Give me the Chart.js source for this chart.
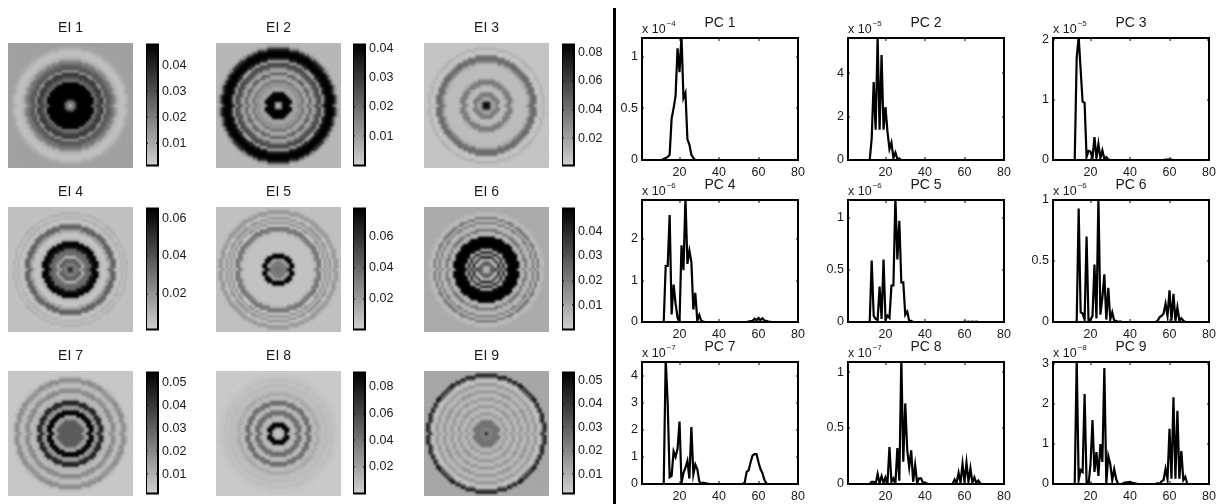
<!DOCTYPE html>
<html>
<head>
<meta charset="utf-8">
<title>EI and PC panels</title>
<script src="https://cdn.jsdelivr.net/npm/chart.js@4/dist/chart.umd.min.js"></script>
<style>
  html, body { margin: 0; padding: 0; background: #fff; width: 1224px; height: 504px; overflow: hidden; }
  canvas { position: absolute; }
  #divider { position: absolute; left: 613px; top: 8px; width: 2.5px; height: 496px; background: #000; }
</style>
</head>
<body>
<div id="divider"></div>
<script>
// --- EI IMAGES: value read along the radius, one entry per image cell ---
const ei1 = [.006,.018,.030,.048,.048,.048,.048,.048,.048,.048,.022,.027,.034,.035,.015,.029,.027,.022,.018,.009,.006,.005,.005,.008,.011,.012];
const ei2 = [.002,.012,.041,.041,.041,.041,.010,.008,.012,.012,.019,.008,.010,.023,.008,.012,.025,.027,.008,.033,.041,.041,.041,.033,.012,.005];
const ei3 = [.085,.077,.030,.014,.035,.035,.009,.009,.014,.035,.036,.014,.008,.009,.009,.009,.009,.014,.035,.043,.039,.009,.004,.014,.008,.006];
const ei4 = [.065,.039,.023,.033,.036,.007,.030,.033,.033,.059,.065,.065,.011,.006,.004,.007,.017,.036,.033,.007,.004,.011,.006,.011,.005,.006];
const ei5 = [.035,.035,.031,.035,.016,.078,.078,.009,.005,.005,.006,.005,.006,.005,.006,.008,.031,.035,.002,.023,.008,.023,.004,.020,.020,.006];
const ei6 = [.003,.010,.027,.027,.005,.044,.010,.042,.005,.047,.049,.049,.049,.049,.008,.005,.022,.008,.005,.020,.005,.022,.005,.006,.009,.009];
const ei7 = [.031,.031,.031,.031,.031,.031,.015,.012,.054,.054,.015,.017,.044,.046,.010,.008,.007,.020,.017,.007,.006,.015,.020,.008,.004,.004];
const ei8 = [.007,.007,.014,.091,.091,.014,.009,.014,.045,.041,.009,.011,.045,.041,.009,.009,.018,.011,.007,.009,.009,.006,.009,.005,.005,.003];
const ei9 = [.053,.022,.022,.025,.025,.025,.010,.008,.017,.008,.008,.017,.008,.008,.017,.008,.008,.017,.008,.008,.017,.008,.004,.030,.048,.012];

const eiProfiles = [ei1, ei2, ei3, ei4, ei5, ei6, ei7, ei8, ei9];
const eiTitles = ["EI 1", "EI 2", "EI 3", "EI 4", "EI 5", "EI 6", "EI 7", "EI 8", "EI 9"];
const eiMin = [.0014, 0, .001, .001, 0, .0003, .0016, 0, .0018];
const eiMax = [.0479, .0413, .0854, .0651, .0781, .0491, .0542, .0909, .0533];
const eiTicks = [
    [.01, .02, .03, .04], [.01, .02, .03, .04], [.02, .04, .06, .08],
    [.02, .04, .06], [.02, .04, .06], [.01, .02, .03, .04],
    [.01, .02, .03, .04, .05], [.02, .04, .06, .08], [.01, .02, .03, .04, .05]
];

// --- PC CURVES: bin -> value, bins not listed are zero ---
const pc1 = {12:.01,13:.02,14:.03,15:.05,16:.4,17:.5,18:.62,19:1.08,20:.85,21:1.2,22:.6,23:.65,24:.2,25:.15,26:.05,27:.02};
const pc2 = {13:1,14:3.6,15:1.4,16:5.7,17:1.4,18:4.85,19:1.4,20:2.45,21:1.3,22:.5,23:.8,24:.1,25:.35,26:.05,27:.07};
const pc3 = {13:1.7,14:2.05,15:1.5,16:.97,17:.95,18:.05,19:.15,20:.14,21:.03,22:.38,23:.03,24:.27,25:.03,26:.16,27:.02,28:.05,29:.01,58:.005,59:.008,60:.008,61:.005};
const pc4 = {13:1.35,14:1.35,15:2.58,16:.18,17:.9,18:.45,19:.1,21:1.85,22:1.25,23:3,24:1.4,25:1.72,26:1.45,27:.3,28:.7,29:.03,30:.17,31:.03,32:.01,55:.01,56:.02,57:.03,58:.08,59:.04,60:.1,61:.05,62:.09,63:.03,64:.03,65:.01,66:.005};
const pc5 = {13:.59,14:.06,15:.03,16:.02,17:.34,18:.03,19:.6,20:.02,21:.06,22:.04,23:.35,24:.35,25:1.2,26:.6,27:.97,28:.38,29:.38,30:.07,31:.1,32:.01,33:.01,60:.004,62:.004,64:.004,66:.004};
const pc6 = {13:.005,14:.93,15:.08,16:.07,17:.02,18:.7,20:.02,21:.05,22:.47,23:.03,24:1.02,25:.06,26:.2,27:.39,28:.02,29:.28,30:.02,31:.08,32:.01,33:.01,35:.005,54:.01,55:.04,56:.05,57:.07,58:.15,59:.05,60:.26,61:.01,62:.23,63:.01,64:.12,65:.01,66:.03,67:.01};
const pc7 = {13:4.6,14:3,15:.25,16:.3,17:1.2,18:1,19:1.3,20:2.3,21:.05,22:.4,23:.6,24:.85,25:.2,26:2.1,27:.35,28:.72,29:.55,30:.1,31:.02,32:.05,33:.03,34:.02,53:.05,54:.45,55:.5,56:.8,57:1.05,58:1.1,59:1.1,60:.8,61:.55,62:.4,63:.15,64:.02};
const pc8 = {13:.02,14:.02,16:.09,17:.01,18:.07,19:.01,20:.06,21:.01,22:.33,23:.02,24:.05,26:.32,27:.03,28:1.12,29:.2,30:.72,31:.3,32:.15,33:.3,34:.02,35:.17,36:.01,37:.05,38:.05,39:.01,40:.01,41:.005,55:.04,56:.01,57:.1,58:.01,59:.18,60:.02,61:.19,62:.02,63:.14,64:.01,65:.06,66:.01,67:.03,68:.005};
const pc9 = {13:3.1,14:.1,15:.35,16:.3,17:2.25,18:.05,20:.5,21:1.6,22:.3,23:.8,24:.2,25:1,26:.55,27:2.9,28:.02,29:.7,30:.5,31:.1,32:.37,33:.12,37:.03,38:.04,39:.04,40:.05,41:.03,42:.02,43:.01,54:.02,56:.07,57:.1,58:.38,59:.12,60:1.38,61:.13,62:2.17,63:.13,64:1.83,65:.13,66:.82,67:.1,68:.18};

const pcCurves = [pc1, pc2, pc3, pc4, pc5, pc6, pc7, pc8, pc9];
const pcTitles = ["PC 1", "PC 2", "PC 3", "PC 4", "PC 5", "PC 6", "PC 7", "PC 8", "PC 9"];
const pcExponents = ["\u22124", "\u22125", "\u22125", "\u22126", "\u22126", "\u22126", "\u22127", "\u22127", "\u22128"];
const pcTop = [1.18, 5.64, 2.03, 2.94, 1.17, 1, 4.5, 1.09, 3.05];
const pcTicks = [
    [0, .5, 1], [0, 2, 4], [0, 1, 2],
    [0, 1, 2], [0, .5, 1], [0, .5, 1],
    [0, 1, 2, 3, 4], [0, .5, 1], [0, 1, 2, 3]
];
const pcBins = Array.from({length: 80}, (_, i) => i + 1);
const pcXTicks = [20, 40, 60, 80];

// --- LAYOUT ---
const imgLeft = [8, 216, 424], imgTop = [43, 207, 371], imgSize = 125;
const barLeft = [146, 353, 562], barWidth = 12;
const pcLeft = [642, 848, 1053], pcTopPx = [38, 200, 362], pcWidth = 156, pcHeight = 122;
const GRID_R = 25;
const TEXT = "#1a1a1a";

Chart.defaults.font.family = "'Liberation Sans', Arial, sans-serif";
Chart.defaults.color = TEXT;
Chart.defaults.animation = false;

function addCanvas(left, top, width, height) {
    const c = document.createElement("canvas");
    c.width = width;
    c.height = height;
    c.style.left = left + "px";
    c.style.top = top + "px";
    c.style.width = width + "px";
    c.style.height = height + "px";
    document.body.appendChild(c);
    return c;
}

function grayFor(v, lo, hi) {
    const t = Math.min(1, Math.max(0, (v - lo) / (hi - lo)));
    const g = Math.round(208 * (1 - t));
    return `rgb(${g},${g},${g})`;
}

const titleOptions = text => ({
    display: true,
    text: text,
    fullSize: false,
    color: TEXT,
    font: {size: 14, weight: "normal", lineHeight: 1},
    padding: {top: 0, bottom: 8}
});

// frame plus short inward tick marks on all sides, matlab style
const boxFrame = {
    id: "boxFrame",
    afterDatasetsDraw(chart) {
        const {ctx, chartArea: a, scales} = chart;
        ctx.save();
        ctx.strokeStyle = "#000";
        ctx.lineWidth = 1;
        ctx.beginPath();
        if (scales.x && scales.x.options.display) {
            scales.x.ticks.forEach(t => {
                const px = Math.round(scales.x.getPixelForValue(t.value));
                ctx.moveTo(px, a.top); ctx.lineTo(px, a.top + 3);
                ctx.moveTo(px, a.bottom); ctx.lineTo(px, a.bottom - 3);
            });
        }
        scales.y.ticks.forEach(t => {
            const py = Math.round(scales.y.getPixelForValue(t.value));
            ctx.moveTo(a.left, py); ctx.lineTo(a.left + 2, py);
            ctx.moveTo(a.right, py); ctx.lineTo(a.right - 2, py);
        });
        ctx.stroke();
        ctx.lineWidth = 2;
        ctx.strokeRect(a.left, a.top, a.right - a.left, a.bottom - a.top);
        ctx.restore();
    }
};

// soften the cells the way the resampled image looks
const softenCells = {
    id: "softenCells",
    afterDatasetsDraw(chart) {
        const {ctx, chartArea: a} = chart;
        ctx.save();
        ctx.beginPath();
        ctx.rect(a.left, a.top, a.right - a.left, a.bottom - a.top);
        ctx.clip();
        ctx.filter = "blur(1px)";
        ctx.drawImage(ctx.canvas, 0, 0);
        ctx.restore();
    }
};

// "x 10^-n" label above the top left corner of the axes
const exponentLabel = {
    id: "exponentLabel",
    afterDraw(chart, args, opts) {
        const {ctx, chartArea: a} = chart;
        ctx.save();
        ctx.fillStyle = TEXT;
        ctx.textBaseline = "alphabetic";
        ctx.font = "12.5px 'Liberation Sans'";
        ctx.fillText("x 10", a.left, a.top - 5);
        const w = ctx.measureText("x 10").width;
        ctx.font = "8px 'Liberation Sans'";
        ctx.fillText(opts.text, a.left + w + 1, a.top - 12);
        ctx.restore();
    }
};

// --- EI IMAGE ---
function createImage(i) {
    const col = i % 3, row = Math.floor(i / 3);
    const profile = eiProfiles[i];
    const background = profile[profile.length - 1];
    const points = [], colors = [];
    for (let y = -GRID_R; y <= GRID_R; y++) {
        for (let x = -GRID_R; x <= GRID_R; x++) {
            let r = Math.round(Math.sqrt(x * x + y * y));
            if (y === 0 && r > 3) r += 1; // centre row is offset by one cell in the source
            const v = r < profile.length ? profile[r] : background;
            points.push({x: x, y: y});
            colors.push(grayFor(v, eiMin[i], eiMax[i]));
        }
    }
    const titleH = 22;
    new Chart(addCanvas(imgLeft[col], imgTop[row] - titleH, imgSize, imgSize + titleH), {
        type: "scatter",
        data: {datasets: [{
            data: points,
            pointStyle: "rect",
            pointRadius: 1.95,
            pointBorderWidth: 0,
            pointBackgroundColor: colors,
            pointHoverRadius: 1.95
        }]},
        options: {
            responsive: false,
            events: [],
            layout: {autoPadding: false},
            plugins: {legend: {display: false}, tooltip: {enabled: false}, title: titleOptions(eiTitles[i])},
            scales: {
                x: {display: false, min: -GRID_R - .5, max: GRID_R + .5},
                y: {display: false, min: -GRID_R - .5, max: GRID_R + .5}
            }
        },
        plugins: [softenCells]
    });
}

// --- EI COLORBAR ---
function createColorbar(i) {
    const col = i % 3, row = Math.floor(i / 3);
    const lo = eiMin[i], hi = eiMax[i], levels = 64;
    const bands = [];
    for (let k = 1; k <= levels; k++) {
        const top = lo + (hi - lo) * k / levels;
        bands.push({
            data: [[lo, top]],
            backgroundColor: grayFor(lo + (hi - lo) * (k - .5) / levels, lo, hi),
            grouped: false,
            barPercentage: 1,
            categoryPercentage: 1
        });
    }
    const pad = 10;
    new Chart(addCanvas(barLeft[col], imgTop[row] - pad, barWidth + 34, imgSize - 1 + 2 * pad), {
        type: "bar",
        data: {labels: [""], datasets: bands},
        options: {
            responsive: false,
            events: [],
            layout: {padding: {top: pad, bottom: pad}, autoPadding: false},
            plugins: {legend: {display: false}, tooltip: {enabled: false}},
            scales: {
                x: {display: false},
                y: {
                    position: "right",
                    min: lo,
                    max: hi,
                    border: {display: false},
                    grid: {display: false, drawTicks: false},
                    afterFit: s => { s.width = 34; },
                    afterBuildTicks: s => { s.ticks = eiTicks[i].map(v => ({value: v})); },
                    ticks: {
                        padding: 4,
                        font: {size: 12.5},
                        color: TEXT,
                        callback: v => v.toFixed(2)
                    }
                }
            }
        },
        plugins: [boxFrame]
    });
}

// --- PC CURVE ---
function createCurve(i) {
    const col = i % 3, row = Math.floor(i / 3);
    const leftGap = 34, rightGap = 14, titleH = 22, bottomGap = 20;
    const curve = pcCurves[i];
    const canvas = addCanvas(pcLeft[col] - leftGap, pcTopPx[row] - titleH,
        leftGap + pcWidth + rightGap, titleH + pcHeight + bottomGap);
    new Chart(canvas, {
        type: "line",
        data: {datasets: [{
            data: pcBins.map(x => ({x: x, y: curve[x] || 0})),
            borderColor: "#000",
            borderWidth: 2.2,
            pointRadius: 0,
            tension: 0
        }]},
        options: {
            responsive: false,
            events: [],
            layout: {padding: {right: rightGap}, autoPadding: false},
            plugins: {
                legend: {display: false},
                tooltip: {enabled: false},
                title: titleOptions(pcTitles[i]),
                exponentLabel: {text: pcExponents[i]}
            },
            scales: {
                x: {
                    type: "linear",
                    min: 1,
                    max: 80,
                    border: {display: false},
                    grid: {display: false, drawTicks: false},
                    afterFit: s => { s.height = bottomGap; },
                    afterBuildTicks: s => { s.ticks = pcXTicks.map(v => ({value: v})); },
                    ticks: {padding: 5, maxRotation: 0, font: {size: 12.5}, color: TEXT}
                },
                y: {
                    min: 0,
                    max: pcTop[i],
                    border: {display: false},
                    grid: {display: false, drawTicks: false},
                    afterFit: s => { s.width = leftGap; },
                    afterBuildTicks: s => { s.ticks = pcTicks[i].map(v => ({value: v})); },
                    ticks: {padding: 4, font: {size: 12.5}, color: TEXT, callback: v => String(v)}
                }
            }
        },
        plugins: [boxFrame, exponentLabel]
    });
}

// --- INIT ---
for (let i = 0; i < 9; i++) {
    createImage(i);
    createColorbar(i);
    createCurve(i);
}
</script>
</body>
</html>
